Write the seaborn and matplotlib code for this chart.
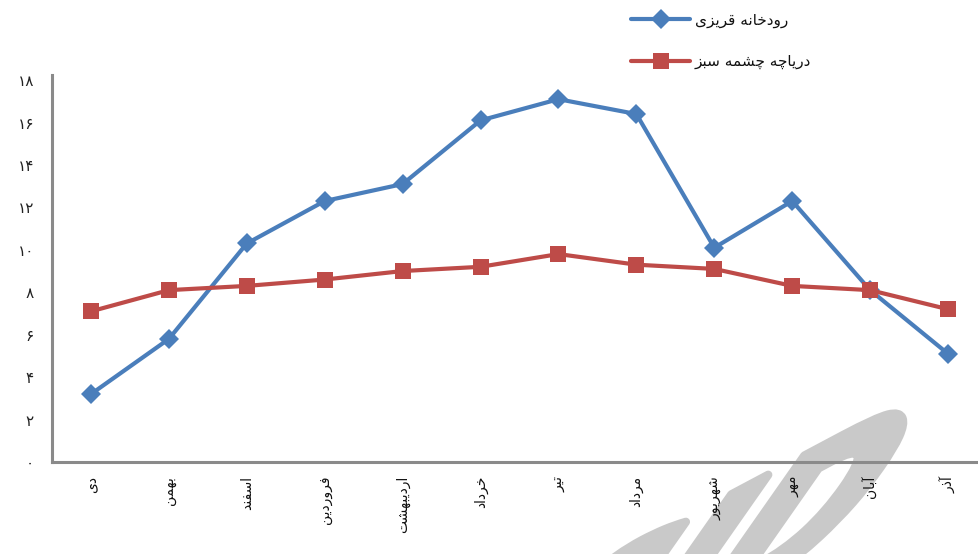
import matplotlib
matplotlib.use("Agg")
import matplotlib.pyplot as plt
import numpy as np
import pandas as pd
import seaborn as sns
from matplotlib.patheffects import AbstractPathEffect
from matplotlib.transforms import Affine2D

# ---------------- data ----------------
months = ["دی", "بهمن", "اسفند", "فروردین", "اردیبهشت", "خرداد",
          "تیر", "مرداد", "شهریور", "مهر", "آبان", "آذر"]
series_names = ["رودخانه قریزی", "دریاچه چشمه سبز"]
river_values = [3.2, 5.8, 10.3, 12.3, 13.1, 16.1, 17.1, 16.4, 10.1, 12.3, 8.1, 5.1]
lake_values = [7.1, 8.1, 8.3, 8.6, 9.0, 9.2, 9.8, 9.3, 9.1, 8.3, 8.1, 7.2]
y_ticks = [0, 2, 4, 6, 8, 10, 12, 14, 16, 18]
y_tick_labels = ["۰", "۲", "۴", "۶", "۸", "۱۰", "۱۲", "۱۴", "۱۶", "۱۸"]
watermark = "SID"

# ---------------- Persian shaping (presentation forms, visual order) ----------------
FORMS = {  # isolated, final, initial, medial
    "ا": (0xFE8D, 0xFE8E, None, None),
    "آ": (0xFE81, 0xFE82, None, None),
    "ب": (0xFE8F, 0xFE90, 0xFE91, 0xFE92),
    "ت": (0xFE95, 0xFE96, 0xFE97, 0xFE98),
    "چ": (0xFB7A, 0xFB7B, 0xFB7C, 0xFB7D),
    "خ": (0xFEA5, 0xFEA6, 0xFEA7, 0xFEA8),
    "د": (0xFEA9, 0xFEAA, None, None),
    "ذ": (0xFEAB, 0xFEAC, None, None),
    "ر": (0xFEAD, 0xFEAE, None, None),
    "ز": (0xFEAF, 0xFEB0, None, None),
    "س": (0xFEB1, 0xFEB2, 0xFEB3, 0xFEB4),
    "ش": (0xFEB5, 0xFEB6, 0xFEB7, 0xFEB8),
    "ف": (0xFED1, 0xFED2, 0xFED3, 0xFED4),
    "ق": (0xFED5, 0xFED6, 0xFED7, 0xFED8),
    "م": (0xFEE1, 0xFEE2, 0xFEE3, 0xFEE4),
    "ن": (0xFEE5, 0xFEE6, 0xFEE7, 0xFEE8),
    "ه": (0xFEE9, 0xFEEA, 0xFEEB, 0xFEEC),
    "و": (0xFEED, 0xFEEE, None, None),
    "ی": (0xFBFC, 0xFBFD, 0xFBFE, 0xFBFF),
}


def dual(c):
    return c in FORMS and FORMS[c][2] is not None


def shape(text):
    out = []
    for i, c in enumerate(text):
        if c not in FORMS:
            out.append(c)
            continue
        prev_c = text[i - 1] if i > 0 else ""
        next_c = text[i + 1] if i + 1 < len(text) else ""
        jp = dual(prev_c)
        jn = dual(c) and next_c in FORMS
        iso, fin, ini, med = FORMS[c]
        if jp and jn:
            code = med
        elif jp:
            code = fin
        elif jn:
            code = ini
        else:
            code = iso
        out.append(chr(code))
    return "".join(out)[::-1]


class LinearWarp(AbstractPathEffect):
    """Applies a linear map about a fixed display point to glyph outlines,
    and thickens them with an outline stroke."""

    def __init__(self, origin_px, matrix, color, stroke_pt):
        super().__init__()
        self.origin = origin_px
        self.matrix = matrix
        self.color = color
        self.stroke_pt = stroke_pt

    def draw_path(self, renderer, gc, tpath, affine, rgbFace=None):
        ox, oy = self.origin
        m = np.eye(3)
        m[:2, :2] = self.matrix
        warp = (Affine2D().translate(-ox, -oy) + Affine2D(m)
                + Affine2D().translate(ox, oy))
        gc0 = renderer.new_gc()
        gc0.copy_properties(gc)
        gc0.set_linewidth(self.stroke_pt)
        gc0.set_foreground(self.color)
        gc0.set_joinstyle("round")
        renderer.draw_path(gc0, tpath, affine + warp, rgbFace)
        gc0.restore()


# ---------------- style ----------------
sns.set_theme(style="white")
plt.rcParams["font.family"] = ["DejaVu Sans"]

blue = "#4a7ebb"
red = "#be4b48"
wm_color = "#c9c9c9"

df = pd.concat([
    pd.DataFrame({"idx": range(len(months)), "value": river_values, "series": series_names[0]}),
    pd.DataFrame({"idx": range(len(months)), "value": lake_values, "series": series_names[1]}),
])

W, H = 979, 554
fig = plt.figure(figsize=(W / 100, H / 100), dpi=100)
ax = fig.add_axes([52 / W, (H - 462) / H, (987 - 52) / W, (462 - 75) / H])
ax.patch.set_alpha(0)

sns.lineplot(data=df, x="idx", y="value", hue="series", style="series",
             hue_order=series_names, style_order=series_names,
             palette=[blue, red], markers=["D", "s"], dashes=False,
             linewidth=3, markersize=11, markeredgewidth=0,
             sort=False, legend=False, ax=ax)
lines = ax.get_lines()[:2]
lines[0].set_markersize(10)

ax.set_xlim(-0.5, len(months) - 0.5)
ax.set_ylim(0, 18.24)
ax.set_xlabel("")
ax.set_ylabel("")
ax.set_xticks(range(len(months)))
ax.set_xticklabels([shape(m) for m in months], rotation=90, fontsize=10,
                   color="#111111", va="top", ha="center")
ax.set_yticks(y_ticks)
ax.set_yticklabels(y_tick_labels, fontsize=11, color="#222222")
ax.tick_params(axis="both", length=0)
ax.tick_params(axis="y", pad=13)
ax.tick_params(axis="x", pad=10)
for side in ["top", "right"]:
    ax.spines[side].set_visible(False)
for side in ["left", "bottom"]:
    ax.spines[side].set_color("#8a8a8a")
    ax.spines[side].set_linewidth(2.2)
ax.grid(False)

fig.legend(lines, [shape(s) for s in series_names],
           loc="upper left", bbox_to_anchor=(617 / W, 1 + 1 / H),
           frameon=False, fontsize=11, handlelength=3.9, handletextpad=0.3,
           labelspacing=1.7, labelcolor="#111111")

# watermark (sheared, rotated); drawn small and enlarged by the warp,
# placed underneath the (transparent) axes
phi = np.deg2rad(28)
up = np.deg2rad(55)
scale = 10.0
a, b = 0.8 * scale, 1.0 * scale
M = np.array([[a * np.cos(phi), b * np.cos(up)],
              [a * np.sin(phi), b * np.sin(up)]])
text_anchor_px = np.array([940.0, 6.0])     # nominal text position (display px)
target_px = np.array([832.0, 9.0])          # where the warped anchor should land
origin_px = np.linalg.solve(np.eye(2) - M, target_px - M @ text_anchor_px)
fig.text(text_anchor_px[0] / W, text_anchor_px[1] / H, watermark, fontsize=20,
         family="DejaVu Sans", weight="bold",
         color=wm_color, ha="right", va="baseline", zorder=-1,
         path_effects=[LinearWarp(origin_px, M, wm_color, 6)])

fig.savefig("out.png", dpi=100)
